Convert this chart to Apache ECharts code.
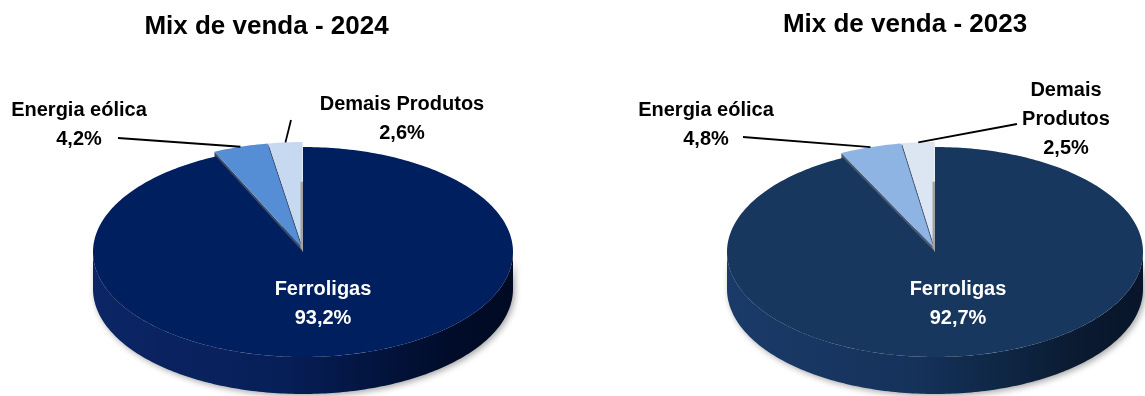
<!DOCTYPE html>
<html>
<head>
<meta charset="utf-8">
<script src="https://cdn.jsdelivr.net/npm/echarts@6/dist/echarts.min.js"></script>
<style>
  html, body { margin: 0; padding: 0; background: #ffffff; }
  #chart { width: 1145px; height: 396px; }
</style>
</head>
<body>
<div id="chart"></div>
<script>
// ---- data ----
const categories = ['Ferroligas', 'Energia eólica', 'Demais Produtos'];
const values2024 = [93.2, 4.2, 2.6];
const values2023 = [92.7, 4.8, 2.5];
const titles = ['Mix de venda - 2024', 'Mix de venda - 2023'];

// ---- layout & style ----
const FONT = '"Liberation Sans", Arial, sans-serif';
const layouts = [
  {
    cx: 303, cy: 252, rx: 210, ry: 105, depth: 37, explode: 5,
    title: { x: 266.5, y: 26.5 },
    top: ['#001F5F', '#558ED5', '#C6D9F1'],
    wall: ['#3b4a66', '#3b4a66', '#3b4a66'],
    side: [[0, '#0c2565'], [0.45, '#071f58'], [0.65, '#031541'], [0.85, '#010c2a'], [1, '#000a22']],
    labels: [
      { x: 323, y: 303.5, color: '#ffffff' },
      { x: 79, y: 125, lx: 118, ly: 138 },
      { x: 402, y: 119, lx: 291, ly: 120 }
    ]
  },
  {
    cx: 935, cy: 252, rx: 208, ry: 105, depth: 37, explode: 5,
    title: { x: 905, y: 24.5 },
    top: ['#17375E', '#8EB4E3', '#DCE6F2'],
    wall: ['#4a5a70', '#4a5a70', '#4a5a70'],
    side: [[0, '#1a3a68'], [0.45, '#15325b'], [0.65, '#0f2746'], [0.85, '#0a1a30'], [1, '#08152a']],
    labels: [
      { x: 958, y: 303.5, color: '#ffffff' },
      { x: 706, y: 124.5, lx: 743, ly: 137 },
      { x: 1066, y: 119, lx: 1017, ly: 124, wrap: true }
    ]
  }
];

function pt(L, deg, ox, oy, dz) {
  const r = deg * Math.PI / 180;
  return [L.cx + ox + L.rx * Math.sin(r), L.cy + oy - L.ry * Math.cos(r) + (dz || 0)];
}
function arc(L, a, b, ox, oy, dz) {
  const pts = [];
  const n = Math.max(2, Math.ceil(Math.abs(b - a)));
  for (let k = 0; k <= n; k++) pts.push(pt(L, a + (b - a) * k / n, ox, oy, dz));
  return pts;
}
function fmt(v) { return v.toFixed(1).replace('.', ',') + '%'; }

function makeSeries(values, L) {
  const total = values.reduce((s, v) => s + v, 0);
  const starts = [];
  let acc = 0;
  values.forEach(v => { starts.push(acc); acc += v; });
  return {
    type: 'custom',
    coordinateSystem: 'none',
    silent: true,
    animation: false,
    data: values.map((v, i) => ({ value: [v, i], name: categories[i] })),
    renderItem: function (params, api) {
      const i = params.dataIndex;
      const v = api.value(0);
      const a = starts[i] / total * 360;
      const b = a + v / total * 360;
      const mid = (a + b) / 2;
      const e = i === 0 ? 0 : L.explode;
      const ox = e * Math.sin(mid * Math.PI / 180);
      const oy = -e * Math.cos(mid * Math.PI / 180);
      const children = [];
      const apex = [L.cx + ox, L.cy + oy];

      // front side wall (visible range 90..270)
      const lo = Math.max(a, 90), hi = Math.min(b, 270);
      if (lo < hi) {
        const topArc = arc(L, lo, hi, ox, oy, 0);
        const botArc = arc(L, hi, lo, ox, oy, L.depth);
        children.push({
          type: 'polygon',
          shape: { points: topArc.concat(botArc) },
          style: {
            fill: new echarts.graphic.LinearGradient(L.cx - L.rx, 0, L.cx + L.rx, 0,
              L.side.map(s => ({ offset: s[0], color: s[1] })), true),
            shadowBlur: 6, shadowColor: 'rgba(0,0,0,0.35)', shadowOffsetX: 2, shadowOffsetY: 2
          },
          z2: 0
        });
      }
      // radial walls for exploded slices
      if (e > 0) {
        [a, b].forEach(ang => {
          const p = pt(L, ang, ox, oy, 0);
          children.push({
            type: 'polygon',
            shape: { points: [apex, p, [p[0], p[1] + L.depth], [apex[0], apex[1] + L.depth]] },
            style: { fill: L.wall[i] },
            z2: 1
          });
        });
      }
      // top face
      children.push({
        type: 'polygon',
        shape: { points: [apex].concat(arc(L, a, b, ox, oy, 0)) },
        style: { fill: L.top[i] },
        z2: i === 0 ? 2 : 3
      });
      // gray cut strip at 12 o'clock for the last slice
      if (i === values.length - 1) {
        children.push({
          type: 'polygon',
          shape: { points: [[L.cx - 2.5, L.cy - 0.67 * L.ry], [L.cx, L.cy - 0.67 * L.ry], [L.cx, L.cy - 1], [L.cx - 2.5, L.cy - 4]] },
          style: { fill: '#a3a3a3' },
          z2: 4
        });
      }
      // label
      const lab = L.labels[i];
      const name = lab.wrap ? categories[i].replace(' ', '\n') : categories[i];
      children.push({
        type: 'text',
        x: lab.x, y: lab.y,
        style: {
          text: name + '\n' + fmt(v),
          align: 'center', verticalAlign: 'middle',
          fill: lab.color || '#000000',
          fontSize: 20, fontWeight: 'bold', fontFamily: FONT,
          lineHeight: 29
        },
        z2: 10
      });
      if (lab.lx !== undefined) {
        const end = pt(L, mid, ox, oy, 0);
        children.push({
          type: 'line',
          shape: { x1: lab.lx, y1: lab.ly, x2: end[0], y2: end[1] },
          style: { stroke: '#000000', lineWidth: 1.8 },
          z2: 9
        });
      }
      return { type: 'group', children: children };
    }
  };
}

const chart = echarts.init(document.getElementById('chart'), null, { renderer: 'canvas' });
chart.setOption({
  backgroundColor: '#ffffff',
  animation: false,
  graphic: titles.map((t, k) => ({
    type: 'text',
    x: layouts[k].title.x, y: layouts[k].title.y,
    style: {
      text: t, align: 'center', verticalAlign: 'middle',
      fill: '#000000', fontSize: 26, fontWeight: 'bold', fontFamily: FONT
    }
  })),
  series: [makeSeries(values2024, layouts[0]), makeSeries(values2023, layouts[1])]
});
</script>
</body>
</html>
